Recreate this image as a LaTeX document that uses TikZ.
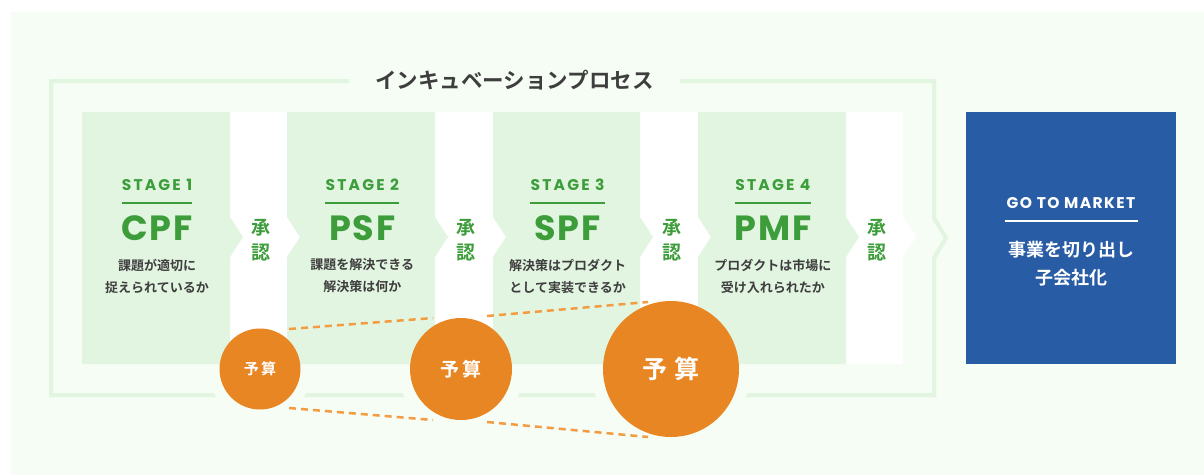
\documentclass[tikz,border=0pt]{standalone}
\usepackage{fontspec}
\setmainfont{Noto Sans CJK JP}[BoldFont={* Bold}]
\newfontfamily\gofont{Poppins}
\usepackage{xcolor}
\usepackage{tikz}
\usetikzlibrary{positioning}
\definecolor{bgcol}{HTML}{F6FDF4}
\definecolor{paleg}{HTML}{E2F5E1}
\definecolor{stagegreen}{HTML}{3C9D3A}
\definecolor{budgetorange}{HTML}{E98624}
\definecolor{dashorange}{HTML}{F39C42}
\definecolor{marketblue}{HTML}{285CA5}
\definecolor{textgray}{HTML}{3E3E3E}
\tikzset{
stage/.style = {text=stagegreen, inner sep=0pt, font=\gofont\bfseries\fontsize{15.5}{15.5}\selectfont\addfontfeature{LetterSpace=14}},
fitname/.style = {text=stagegreen, inner sep=0pt, font=\gofont\bfseries\fontsize{35}{35}\selectfont\addfontfeature{LetterSpace=5}},
question/.style = {text=textgray, inner sep=0pt, align=center, font=\bfseries\fontsize{13}{22}\selectfont},
approve/.style = {text=stagegreen, inner sep=0pt, align=center, font=\bfseries\fontsize{19}{25}\selectfont},
budget/.style = {circle, fill=budgetorange, text=white, inner sep=0pt},
proctitle/.style = {fill=bgcol, text=textgray, inner xsep=26pt, inner ysep=3pt, font=\bfseries\fontsize{21.5}{21.5}\selectfont},
market/.style = {fill=marketblue, inner sep=0pt, minimum width=210pt, minimum height=252pt},
gotext/.style = {text=white, inner sep=0pt, font=\gofont\bfseries\fontsize{15.5}{15.5}\selectfont\addfontfeature{LetterSpace=9}},
spinoff/.style = {text=white, inner sep=0pt, align=center, font=\bfseries\fontsize{18}{28}\selectfont},
frameline/.style = {draw=paleg, line width=4pt},
stagerule/.style = {draw=stagegreen, line width=2.5pt},
budgetline/.style = {draw=dashorange, line width=2.5pt, dash pattern=on 7pt off 5pt}
}
\begin{document}
\begin{tikzpicture}[x=1pt, y=-1pt, node distance=205.3pt]
    \useasboundingbox (0,0) rectangle (1204,475);
    \fill[bgcol] (11,12) rectangle (1204,475);
    \draw[frameline] (51,81) -- (934,81) -- (934,218) -- (946,238) -- (934,258) -- (934,395) -- (51,395) -- cycle;

    \coordinate (b1) at (260,369);
    \coordinate (b2) at (461,369);
    \coordinate (b3) at (671,369);
    \fill[bgcol] (b1) circle[radius=52pt] (b2) circle[radius=63pt] (b3) circle[radius=80pt];

    \fill[white] (82,112) rectangle (903,364);
    \fill[white] (903,217) -- (916,237) -- (903,257) -- cycle;
    \fill[paleg] (82,112) -- (230,112) -- (230,217) -- (243,237) -- (230,257) -- (230,364) -- (82,364) -- cycle;
    \fill[paleg] (287,112) -- (435,112) -- (435,217) -- (448,237) -- (435,257) -- (435,364) -- (287,364) -- (287,257) -- (300,237) -- (287,217) -- cycle;
    \fill[paleg] (493,112) -- (640,112) -- (640,217) -- (653,237) -- (640,257) -- (640,364) -- (493,364) -- (493,257) -- (506,237) -- (493,217) -- cycle;
    \fill[paleg] (698,112) -- (846,112) -- (846,217) -- (859,237) -- (846,257) -- (846,364) -- (698,364) -- (698,257) -- (711,237) -- (698,217) -- cycle;

    \node[proctitle] (proc) at (514.5,80) {インキュベーションプロセス};

    \node[stage] (st1) at (157,185) {STAGE 1};
    \node[stage, right of=st1] (st2) {STAGE 2};
    \node[stage, right of=st2] (st3) {STAGE 3};
    \node[stage, right of=st3] (st4) {STAGE 4};
    \draw[stagerule] ([yshift=-18pt]st1.west) -- ([yshift=-18pt]st1.east);
    \draw[stagerule] ([yshift=-18pt]st2.west) -- ([yshift=-18pt]st2.east);
    \draw[stagerule] ([yshift=-18pt]st3.west) -- ([yshift=-18pt]st3.east);
    \draw[stagerule] ([yshift=-18pt]st4.west) -- ([yshift=-18pt]st4.east);

    \node[fitname, below of=st1, node distance=43pt] (n1) {CPF};
    \node[fitname, below of=st2, node distance=43pt] (n2) {PSF};
    \node[fitname, below of=st3, node distance=43pt] (n3) {SPF};
    \node[fitname, below of=st4, node distance=43pt] (n4) {PMF};
    \node[question, below of=n1, node distance=48pt] (q1) {課題が適切に\\捉えられているか};
    \node[question, below of=n2, node distance=48pt] (q2) {課題を解決できる\\解決策は何か};
    \node[question, below of=n3, node distance=48pt] (q3) {解決策はプロダクト\\として実装できるか};
    \node[question, below of=n4, node distance=48pt] (q4) {プロダクトは市場に\\受け入れられたか};

    \node[approve] (ap1) at (261,240) {承\\認};
    \node[approve, right of=ap1] (ap2) {承\\認};
    \node[approve, right of=ap2] (ap3) {承\\認};
    \node[approve, right of=ap3] (ap4) {承\\認};

    \coordinate (u1) at (289,329);
    \coordinate (u2) at (433,318);
    \coordinate (w1) at (289,408);
    \coordinate (w2) at (433,420);
    \coordinate (u3) at (487,316);
    \coordinate (u4) at (648,302);
    \coordinate (w3) at (487,422);
    \coordinate (w4) at (648,437);
    \draw[budgetline] (u1) -- (u2);
    \draw[budgetline] (w1) -- (w2);
    \draw[budgetline] (u3) -- (u4);
    \draw[budgetline] (w3) -- (w4);

    \node[budget, minimum size=81pt, font=\bfseries\fontsize{15}{15}\selectfont\addfontfeature{LetterSpace=15}] (bud1) at (b1) {予算};
    \node[budget, minimum size=102pt, font=\bfseries\fontsize{19}{19}\selectfont\addfontfeature{LetterSpace=20}] (bud2) at (b2) {予算};
    \node[budget, minimum size=136pt, font=\bfseries\fontsize{25}{25}\selectfont\addfontfeature{LetterSpace=25}] (bud3) at (b3) {予算};

    \node[market] (gtm) at (1071,238) {};
    \node[gotext] (gt) at (1071,203) {GO TO MARKET};
    \draw[white, line width=2pt] ([yshift=-18pt,xshift=-2pt]gt.west) -- ([yshift=-18pt,xshift=2pt]gt.east);
    \node[spinoff, below of=gt, node distance=61pt] (spin) {事業を切り出し\\子会社化};
\end{tikzpicture}
\end{document}
